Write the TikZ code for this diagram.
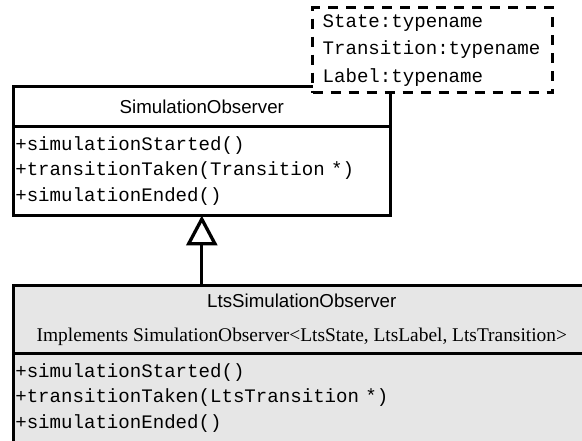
\documentclass[tikz,border=0pt]{standalone}
\usepackage{fontspec}
\setmainfont{Liberation Serif}
\setsansfont{Liberation Sans}
\setmonofont{Liberation Mono}
\usetikzlibrary{arrows.meta,positioning}
\definecolor{umlGray}{RGB}{230,230,230}

\begin{document}
\begin{tikzpicture}[
  x=1pt, y=-1pt,
  node distance = 0pt,
  head/.style = {rectangle, draw, line width=3.3pt, outer sep=0pt,
                 minimum width=377pt, minimum height=40pt, inner sep=0pt,
                 align=center, font=\sffamily\fontsize{18.7}{25.5}\selectfont},
  ops/.style  = {rectangle, draw, line width=3.3pt, outer sep=0pt,
                 minimum width=377pt, minimum height=89pt,
                 inner xsep=2pt, inner ysep=0pt, text width=373pt,
                 align=left, font=\ttfamily\fontsize{19.1}{25.5}\selectfont},
  tmpl/.style = {rectangle, draw, fill=white, line width=3.3pt,
                 dash pattern=on 10pt off 8pt,
                 minimum width=240pt, minimum height=85pt,
                 inner xsep=10pt, inner ysep=0pt, text width=220pt,
                 align=left, font=\ttfamily\fontsize{19.1}{27.5}\selectfont},
  inherit/.style = {-{Triangle[open, length=30pt, width=31pt]}, line width=3.3pt}
]
\useasboundingbox (0,0) rectangle (582,441);

% Abstract observer class
\node[head, anchor=north west] (obshead) at (13.3,86.5) {SimulationObserver};
\node[ops, below=of obshead] (obsops)
  {+simulationStarted()\\+transitionTaken(Transition *)\\+simulationEnded()};

% Template parameters
\node[tmpl, anchor=north west] (params) at (311,6)
  {State:typename\\Transition:typename\\Label:typename};

% Concrete observer class
\node[head, fill=umlGray, minimum width=577pt, minimum height=68pt,
      font=\rmfamily\fontsize{19.4}{25.5}\selectfont,
      anchor=north west] (ltshead) at (13.3,285.5)
  {{\sffamily\fontsize{18.7}{25.5}\selectfont LtsSimulationObserver}\\[8.5pt]
   Implements SimulationObserver<LtsState, LtsLabel, LtsTransition>};
\node[ops, fill=umlGray, minimum width=577pt, text width=573pt,
      below=of ltshead] (ltsops)
  {+simulationStarted()\\+transitionTaken(LtsTransition *)\\+simulationEnded()};

% Generalisation
\draw[inherit] (ltshead.north -| obsops.south) -- (obsops.south);

\end{tikzpicture}
\end{document}
